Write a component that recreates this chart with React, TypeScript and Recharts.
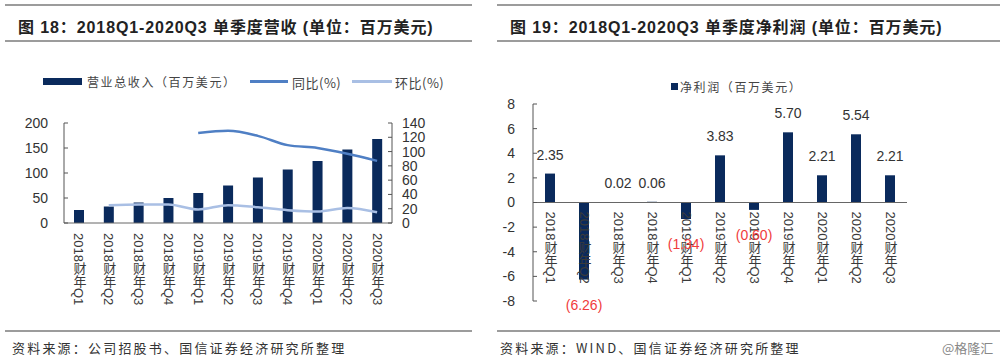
import React from "react";
import { ComposedChart, BarChart, Bar, Line, XAxis, YAxis, ReferenceLine, LabelList } from "recharts";

const FONT = '"Liberation Sans", Arial, "Noto Sans CJK SC", sans-serif';
const CJK = '"Noto Sans CJK SC", "Liberation Sans", sans-serif';

const NAVY = "#0A2A5C";
const YOY_BLUE = "#4F7FC4";
const QOQ_BLUE = "#A9BFE4";
const RULE = "#9C9C9C";

// x categories (shared by both charts)
const quarters = [
  "2018财年Q1", "2018财年Q2", "2018财年Q3", "2018财年Q4",
  "2019财年Q1", "2019财年Q2", "2019财年Q3", "2019财年Q4",
  "2020财年Q1", "2020财年Q2", "2020财年Q3",
];
// left: revenue (百万美元) + growth rates (%)
const revenue = [26, 33, 41, 50, 60, 75, 91, 107, 124, 147, 168];
const yoy = [null, null, null, null, 126, 129, 122, 109, 105, 97, 87];
const qoq = [null, 25, 26, 26, 19, 25, 22, 18, 16, 21, 15];
const revTicks = [0, 50, 100, 150, 200];
const pctTicks = [0, 20, 40, 60, 80, 100, 120, 140];
// right: net profit (百万美元)
const netProfit = [2.35, -6.26, 0.02, 0.06, -1.34, 3.83, -0.6, 5.7, 2.21, 5.54, 2.21];
const profitTicks = [-8, -6, -4, -2, 0, 2, 4, 6, 8];
const boundaries = [0, 1, 2, 3, 4, 5, 6, 7, 8, 9, 10, 11];

const revData = quarters.map((q, i) => ({ name: q, revenue: revenue[i], yoy: yoy[i], qoq: qoq[i] }));
const profitData = quarters.map((q, i) => ({ name: q, profit: netProfit[i] }));

const yTick = { fontSize: 14, fill: "#333", fontFamily: FONT };

function VTick({ x, y, payload }: any) {
  return (
    <text x={x} y={y} fontSize={13} fill="#3a3a3a" fontFamily={FONT} style={{ writingMode: "vertical-rl" }}>
      {payload.value}
    </text>
  );
}

// bar end / zero line from a bar's box, whatever sign the height has
function barEnds(props: any) {
  const vb = props.viewBox ?? props;
  const top = Math.min(vb.y, vb.y + vb.height);
  const bottom = Math.max(vb.y, vb.y + vb.height);
  const v = netProfit[props.index];
  return { cx: vb.x + vb.width / 2, zero: v >= 0 ? bottom : top, end: v >= 0 ? top : bottom, v };
}

function ValueLabel(props: any) {
  const { cx, end, v } = barEnds(props);
  if (v >= 0)
    return (
      <text x={cx} y={end - 14} textAnchor="middle" fontSize={14} fill="#333" fontFamily={FONT}>
        {v.toFixed(2)}
      </text>
    );
  return (
    <text x={cx} y={end + 30} textAnchor="middle" fontSize={14} fill="#F03C3C" fontFamily={FONT}>
      ({Math.abs(v).toFixed(2)})
    </text>
  );
}

function CatLabel(props: any) {
  const { cx, zero } = barEnds(props);
  return (
    <text x={cx} y={zero + 9} fontSize={13} fill="#3a3a3a" fontFamily={FONT} style={{ writingMode: "vertical-rl" }}>
      {quarters[props.index]}
    </text>
  );
}

const Rule = ({ left, width, top }: { left: number; width: number; top: number }) => (
  <div style={{ position: "absolute", left, width, top, height: 2, background: RULE }} />
);

const Title = ({ left, children }: { left: number; children: React.ReactNode }) => (
  <div style={{ position: "absolute", left, top: 14, fontSize: 16, fontWeight: 700, color: "#222", fontFamily: FONT, letterSpacing: 0.9, whiteSpace: "nowrap" }}>
    {children}
  </div>
);

const Note = ({ left, children, color = "#333", spacing = 2.2 }: { left: number; children: React.ReactNode; color?: string; spacing?: number }) => (
  <div style={{ position: "absolute", left, top: 338, fontSize: 13, color, fontFamily: CJK, letterSpacing: spacing, whiteSpace: "nowrap" }}>
    {children}
  </div>
);

const legendText = { position: "absolute" as const, top: 73, fontSize: 12, color: "#444", fontFamily: CJK, letterSpacing: 1.6, whiteSpace: "nowrap" as const };

export default function App() {
  return (
    <div style={{ position: "absolute", left: 0, top: 0, width: 1000, height: 360, background: "#fff", overflow: "hidden" }}>
      <Rule left={5} width={467} top={4} />
      <Rule left={5} width={467} top={40} />
      <Rule left={497} width={503} top={4} />
      <Rule left={497} width={503} top={40} />
      <Title left={18}>图 18：2018Q1-2020Q3 单季度营收 (单位：百万美元)</Title>
      <Title left={510}>图 19：2018Q1-2020Q3 单季度净利润 (单位：百万美元)</Title>

      {/* left legend */}
      <div style={{ position: "absolute", left: 43, top: 78, width: 39, height: 7, background: NAVY }} />
      <div style={{ ...legendText, left: 87 }}>营业总收入（百万美元）</div>
      <div style={{ position: "absolute", left: 250, top: 80, width: 38, height: 3, background: YOY_BLUE }} />
      <div style={{ ...legendText, left: 292, fontSize: 13, letterSpacing: 0.5 }}>同比(%)</div>
      <div style={{ position: "absolute", left: 352, top: 80, width: 40, height: 3, background: QOQ_BLUE }} />
      <div style={{ ...legendText, left: 395, fontSize: 13, letterSpacing: 0.5 }}>环比(%)</div>

      <div style={{ position: "absolute", left: 0, top: 60 }}>
        <ComposedChart width={470} height={265} data={revData} margin={{ top: 63, right: 0, bottom: 0, left: 0 }}>
          <XAxis xAxisId="b" type="number" domain={[0, 11]} ticks={boundaries} tick={false} tickSize={-4} height={0} axisLine={false} stroke="#666" />
          <XAxis dataKey="name" interval={0} height={102} tickSize={0} tickMargin={10} tickLine={false} stroke="#666" tick={<VTick />} />
          <YAxis yAxisId="l" domain={[0, 200]} ticks={revTicks} interval={0} width={64} tickSize={-4} tickMargin={20} stroke="#555" tick={yTick} />
          <YAxis yAxisId="r" orientation="right" domain={[0, 140]} ticks={pctTicks} interval={0} width={78} tickSize={-4} tickMargin={14} stroke="#555" tick={yTick} />
          <Bar isAnimationActive={false} yAxisId="l" dataKey="revenue" fill={NAVY} barSize={10} />
          <Line isAnimationActive={false} yAxisId="r" type="monotone" dataKey="yoy" stroke={YOY_BLUE} strokeWidth={2.5} dot={false} />
          <Line isAnimationActive={false} yAxisId="r" type="monotone" dataKey="qoq" stroke={QOQ_BLUE} strokeWidth={2.5} dot={false} />
        </ComposedChart>
      </div>

      {/* right legend */}
      <div style={{ position: "absolute", left: 671, top: 83, width: 7, height: 7, background: NAVY }} />
      <div style={{ ...legendText, left: 680, top: 78 }}>净利润（百万美元）</div>

      <div style={{ position: "absolute", left: 497, top: 60 }}>
        <BarChart width={500} height={265} data={profitData} margin={{ top: 44, right: 90, bottom: 24, left: 0 }}>
          <XAxis dataKey="name" hide />
          <YAxis domain={[-8, 8]} ticks={profitTicks} interval={0} width={36} tickSize={-4} tickMargin={22} stroke="#555" tick={yTick} />
          <ReferenceLine y={0} stroke="#666" />
          <Bar isAnimationActive={false} dataKey="profit" fill={NAVY} barSize={10}>
            <LabelList dataKey="name" content={<CatLabel />} />
            <LabelList dataKey="profit" content={<ValueLabel />} />
          </Bar>
        </BarChart>
      </div>

      <Rule left={5} width={467} top={330} />
      <Rule left={497} width={503} top={330} />
      <Note left={12}>资料来源：公司招股书、国信证券经济研究所整理</Note>
      <Note left={500}>资料来源：WIND、国信证券经济研究所整理</Note>
      <Note left={942} color="#888" spacing={0}>@格隆汇</Note>
    </div>
  );
}
